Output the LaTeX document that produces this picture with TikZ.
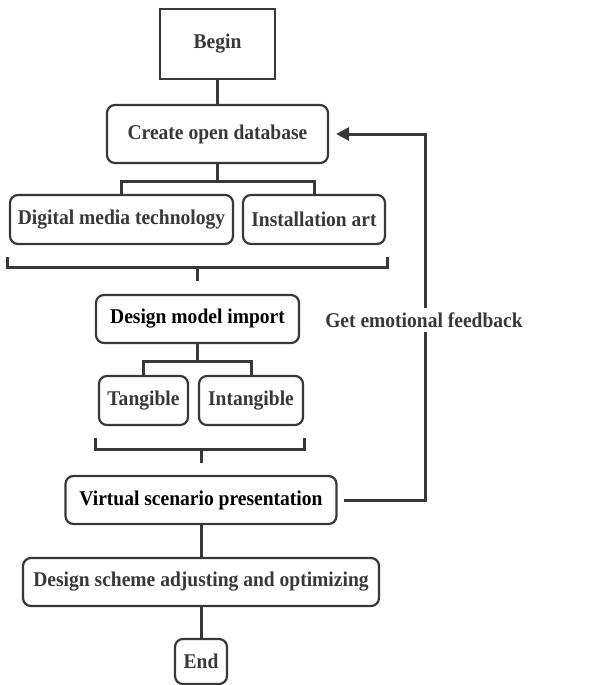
\documentclass[tikz,border=0pt]{standalone}
\usepackage{fontspec}
\setmainfont{Liberation Serif}[FakeStretch=0.93]
\usetikzlibrary{arrows.meta,calc}
\definecolor{ink}{HTML}{383838}
\begin{document}
\begin{tikzpicture}[x=1pt,y=-1pt,
  box/.style={draw=ink,line width=2.2pt,rounded corners=8pt,inner sep=0pt,
    font=\fontsize{21}{24}\selectfont\bfseries,text=ink},
  sharpbox/.style={box,rounded corners=0pt},
  link/.style={draw=ink,line width=3pt}]
\useasboundingbox (0,0) rectangle (598,685);
% boxes
\node[sharpbox,minimum width=115,minimum height=70] (begin) at (217.5,44) {Begin};
\node[box,minimum width=221,minimum height=58] (db) at (217.5,134) {Create open database};
\node[box,minimum width=223,minimum height=49] (dmt) at (121.5,219.5) {Digital media technology};
\node[box,minimum width=142,minimum height=49] (art) at (314,219.5) {Installation art};
\node[box,text=black,minimum width=203,minimum height=48] (dmi) at (197.5,319) {Design model import};
\node[box,minimum width=89,minimum height=49] (tan) at (143.5,400.5) {Tangible};
\node[box,minimum width=104,minimum height=49] (intan) at (251,400.5) {Intangible};
\node[box,text=black,minimum width=271,minimum height=48] (vsp) at (201,500) {Virtual scenario presentation};
\node[box,minimum width=356,minimum height=48] (dsa) at (201,582) {Design scheme adjusting and optimizing};
\node[box,minimum width=52,minimum height=45] (end) at (201,661.5) {End};
% splits
\draw[link] (begin.south) -- (db.north);
\draw[link] (db.south) -- ++(0,17) coordinate (s1);
\draw[link] (dmt.north) |- (s1) -| (art.north);
\draw[link] (dmi.south) -- ++(0,17) coordinate (s2);
\draw[link] (tan.north) |- (s2) -| (intan.north);
% brackets
\coordinate (j1) at ($(dmi.north)+(0,-26)$);
\draw[link] ($(dmt.south west)+(-1,12)$) |- (j1) -| ($(art.south east)+(1,12)$);
\draw[link] (j1) -- ++(0,13);
\coordinate (j2) at ($(vsp.north)+(0,-25)$);
\draw[link] ($(tan.south west)+(-2,12)$) |- (j2) -| ($(intan.south east)+(0,12)$);
\draw[link] (j2) -- ++(0,13);
\draw[link] (vsp.south) -- (dsa.north);
\draw[link] (dsa.south) -- (end.north);
% feedback loop
\draw[link,-{Triangle[length=13pt,width=13pt]}] ([xshift=6pt]vsp.east) -| ([xshift=96pt]db.east) -- ([xshift=7pt]db.east);
\node[fill=white,inner xsep=2pt,inner ysep=5pt,text=ink,
  font=\fontsize{21}{24}\selectfont\bfseries] (fb) at (424,320) {Get emotional feedback};
\end{tikzpicture}
\end{document}
